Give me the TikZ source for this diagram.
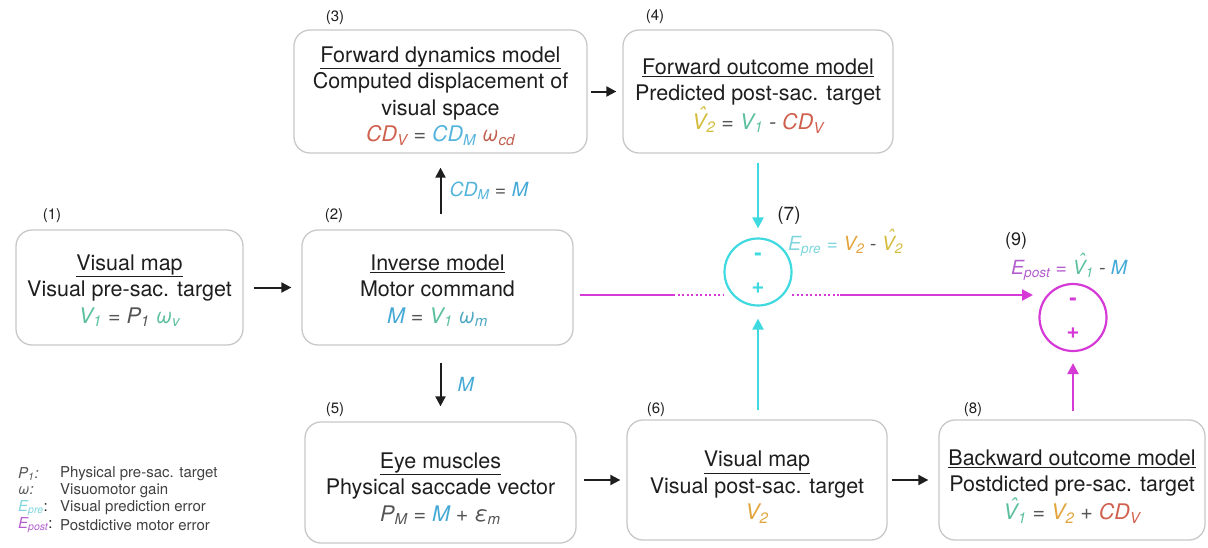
\documentclass[tikz,border=0pt]{standalone}
\usepackage{fontspec}
\setmainfont{TeX Gyre Heros}
\usetikzlibrary{arrows.meta,calc}
\definecolor{boxgray}{HTML}{C8C8C8}
\definecolor{textc}{HTML}{1E1E1E}
\definecolor{cgray}{HTML}{555555}
\definecolor{cVone}{HTML}{5CBF9E}
\definecolor{cM}{HTML}{45A9D6}
\definecolor{cCDV}{HTML}{D0604E}
\definecolor{cCDM}{HTML}{55B4DC}
\definecolor{cwcd}{HTML}{C06050}
\definecolor{cwm}{HTML}{4EA8C0}
\definecolor{cVtwo}{HTML}{E2A43C}
\definecolor{cVtwohat}{HTML}{D4BC3C}
\definecolor{cEpre}{HTML}{7FD6DE}
\definecolor{cEpost}{HTML}{B35CCF}
\definecolor{cyanline}{HTML}{3FD9E0}
\definecolor{magline}{HTML}{D63AD6}
\newcommand{\sbs}[1]{\textsubscript{#1}}
\newcommand{\hatV}{\makebox[0pt][l]{\hspace{0.28em}\raisebox{0.32em}{ˆ}}V}
\newcommand{\tstr}[1]{\rule{0pt}{#1}}
\begin{document}
\begin{tikzpicture}[x=1pt,y=-1pt,
  box/.style={draw=boxgray, line width=1.3pt, rounded corners=16pt, align=center,
    inner sep=0pt, font=\fontsize{21.5}{26.5}\selectfont, text=textc},
  num/.style={font=\fontsize{15}{18}\selectfont, text=textc, inner sep=0pt},
  lbl/.style={font=\fontsize{19.5}{22}\selectfont\itshape, inner sep=0pt, anchor=west},
  arr/.style={-{Triangle[length=10pt,width=10pt]}, line width=2pt, draw=textc},
  cyarr/.style={-{Triangle[length=11pt,width=11pt]}, line width=2.2pt, draw=cyanline},
  magarr/.style={-{Triangle[length=11pt,width=11pt]}, line width=2.2pt, draw=magline},
  sumc/.style={circle, line width=2.2pt, minimum size=67pt, inner sep=0pt},
  sgn/.style={font=\fontsize{22}{22}\selectfont\bfseries, inner sep=0pt},
  leg/.style={font=\fontsize{15}{18}\selectfont, text=textc!85, inner sep=0pt, anchor=west},
  legs/.style={font=\fontsize{15}{18}\selectfont\itshape, inner sep=0pt, anchor=west}
]
\useasboundingbox (0,0) rectangle (1208,547);

% boxes
\node[box, minimum width=227pt, minimum height=115pt] (b1) at (129.5,287.5)
  {\tstr{21.7pt}\underline{Visual map}\\Visual pre-sac. target\\
   {\itshape\textcolor{cVone}{V\sbs{1}} \textcolor{cgray}{= P\sbs{1}} \textcolor{cVone}{ω\sbs{v}}}};
\node[box, minimum width=271pt, minimum height=115pt] (b2) at (437.5,287.5)
  {\tstr{21.7pt}\underline{Inverse model}\\Motor command\\
   {\itshape\textcolor{cM}{M} \textcolor{cgray}{=} \textcolor{cVone}{V\sbs{1}} \textcolor{cwm}{ω\sbs{m}}}};
\node[box, minimum width=293pt, minimum height=123pt] (b3) at (440.5,91.5)
  {\tstr{25.2pt}\underline{Forward dynamics model}\\Computed displacement of\\visual space\\
   {\itshape\textcolor{cCDV}{CD\sbs{V}} \textcolor{cgray}{=} \textcolor{cCDM}{CD\sbs{M}} \textcolor{cwcd}{ω\sbs{cd}}}};
\node[box, minimum width=270pt, minimum height=123pt] (b4) at (758,91.5)
  {\tstr{24.5pt}\underline{Forward outcome model}\\Predicted post-sac. target\\
   {\itshape\textcolor{cVtwohat}{\hatV\sbs{2}} \textcolor{cgray}{=} \textcolor{cVone}{V\sbs{1}} \textcolor{cgray}{-} \textcolor{cCDV}{CD\sbs{V}}}};
\node[box, minimum width=271pt, minimum height=121pt] (b5) at (440.5,482.5)
  {\tstr{28pt}\underline{Eye muscles}\\Physical saccade vector\\
   {\itshape\textcolor{cgray}{P\sbs{M} =} \textcolor{cM}{M} \textcolor{cgray}{+ ε\sbs{m}}}};
\node[box, minimum width=260pt, minimum height=120pt] (b6) at (757,480)
  {\tstr{30pt}\underline{Visual map}\\Visual post-sac. target\\
   {\itshape\textcolor{cVtwo}{V\sbs{2}}}};
\node[box, minimum width=266pt, minimum height=120pt] (b8) at (1072,480)
  {\tstr{29pt}\underline{Backward outcome model}\\Postdicted pre-sac. target\\
   {\itshape\textcolor{cVone}{\hatV\sbs{1}} \textcolor{cgray}{=} \textcolor{cVtwo}{V\sbs{2}} \textcolor{cgray}{+} \textcolor{cCDV}{CD\sbs{V}}}};

% numbers
\node[num] (n1) at (52,216) {(1)};
\node[num] (n2) at (334,216) {(2)};
\node[num] (n3) at (335,18) {(3)};
\node[num] (n4) at (655,17) {(4)};
\node[num] (n5) at (335,410) {(5)};
\node[num] (n6) at (656,410) {(6)};
\node[num] (n8) at (973,410) {(8)};
\node[num, font=\fontsize{19}{20}\selectfont] (n7) at (789,216) {(7)};
\node[num, font=\fontsize{18}{20}\selectfont] (n9) at (1016,241) {(9)};

% summing junctions
\node[sumc, draw=cyanline] (c7) at (758,272) {};
\node[sgn, text=cyanline] (c7m) at (758,257) {-};
\node[sgn, text=cyanline] (c7p) at (758,288) {+};
\node[sumc, draw=magline] (c9) at (1073,317.5) {};
\node[sgn, text=magline] (c9m) at (1073,302) {-};
\node[sgn, text=magline] (c9p) at (1073,333) {+};

% error labels
\node[lbl] (epre) at (788,243)
  {\textcolor{cEpre}{E\sbs{pre} =} \textcolor{cVtwo}{V\sbs{2}} \textcolor{cgray}{-} \textcolor{cVtwohat}{\hatV\sbs{2}}};
\node[lbl] (epost) at (1011,267)
  {\textcolor{cEpost}{E\sbs{post} =} \textcolor{cVone}{\hatV\sbs{1}} \textcolor{cgray}{-} \textcolor{cM}{M}};

% black arrows
\draw[arr] ($(b1.east)+(10,0)$) -- ($(b1.east -| b2.west)+(-10,0)$);
\draw[arr] ($(b3.south |- b2.north)+(0,-15)$) -- node[lbl, right=8pt, text=cCDM] (lcdm)
  {CD\sbs{M} \textcolor{cgray}{=} \textcolor{cM}{M}} ($(b3.south)+(0,14)$);
\draw[arr] ($(b3.south |- b2.south)+(0,17)$) -- node[lbl, right=16pt, text=cM] (lm) {M} ($(b5.north)+(0,-15)$);
\draw[arr] ($(b3.east)+(3,0)$) -- ($(b3.east -| b4.west)+(-6,0)$);
\draw[arr] ($(b6.west -| b5.east)+(7,0)$) -- ($(b6.west)+(-6,0)$);
\draw[arr] ($(b6.east)+(4,0)$) -- ($(b6.east -| b8.west)+(-10,0)$);

% cyan arrows
\draw[cyarr] ($(c7.north |- b4.south)+(0,9)$) -- ($(c7.north)+(0,-9)$);
\draw[cyarr] ($(c7.south |- b6.north)+(0,-9)$) -- ($(c7.south)+(0,12)$);

% magenta line
\coordinate (d1) at (673,295);
\coordinate (d2) at (724,295);
\coordinate (d3) at (792,295);
\coordinate (d4) at (840,295);
\coordinate (me) at (1033,295);
\draw[magline, line width=2pt] ($(b2.east |- d1)+(6,0)$) -- (d1);
\draw[magline, line width=2pt, dash pattern=on 2pt off 2.5pt] (d1) -- (d2);
\draw[magline, line width=2pt, dash pattern=on 2pt off 2.5pt] (d3) -- (d4);
\draw[magarr] (d4) -- (me);
\draw[magarr] ($(c9.south |- b8.north)+(0,-8)$) -- ($(c9.south)+(0,11)$);

% legend
\node[legs, text=cgray] (l1) at (18,474) {P\sbs{1}:};
\node[leg] (l1t) at (60,474) {Physical pre-sac. target};
\node[legs, text=cgray] (l2) at (18,491) {ω:};
\node[leg] (l2t) at (60,491) {Visuomotor gain};
\node[legs, text=cEpre] (l3) at (18,508) {E\sbs{pre}\upshape\textcolor{textc}{:}};
\node[leg] (l3t) at (60,508) {Visual prediction error};
\node[legs, text=cEpost] (l4) at (18,525) {E\sbs{post}\upshape\textcolor{textc}{:}};
\node[leg] (l4t) at (60,525) {Postdictive motor error};
\end{tikzpicture}
\end{document}
